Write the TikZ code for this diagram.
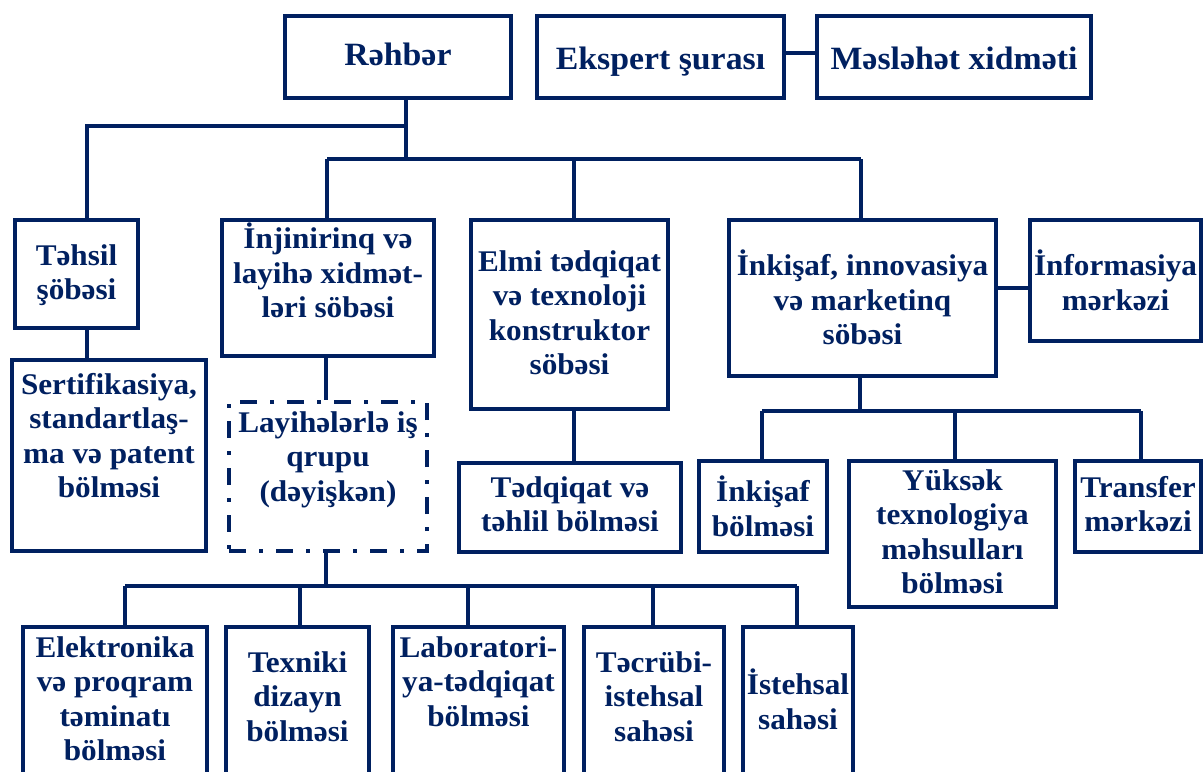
\documentclass[tikz,border=0pt]{standalone}
\usepackage{fontspec}
\setmainfont{Liberation Serif}[FakeStretch=1.04]
\usetikzlibrary{fit,calc}
\definecolor{navy}{RGB}{0,32,96}
\tikzset{
  unit/.style={draw=navy, line width=4pt, inner sep=0pt, rectangle},
  dunit/.style={unit, dash pattern=on 17pt off 13pt on 4pt off 13pt},
  lbl/.style={text=navy, inner sep=0pt, anchor=north, align=center,
    font=\fontsize{30}{34.5}\selectfont\bfseries, execute at begin node=\strut},
  toplbl/.style={lbl, font=\fontsize{32.5}{37}\selectfont\bfseries},
  link/.style={draw=navy, line width=3.5pt}
}
\begin{document}
\begin{tikzpicture}[x=1pt, y=-1pt]
\useasboundingbox (0,0) rectangle (1204,771);
\clip (0,0) rectangle (1204,771);

% --- boxes ---
\node[unit, fit={(285,16) (511,98)}]    (rehber)   {};
\node[unit, fit={(537,16) (784,98)}]    (ekspert)  {};
\node[unit, fit={(817,16) (1091,98)}]   (masl)     {};
\node[unit, fit={(15,220) (138,328)}]   (tehsil)   {};
\node[unit, fit={(222,220) (434,356)}]  (injin)    {};
\node[unit, fit={(471,220) (668,409)}]  (elmi)     {};
\node[unit, fit={(729,220) (996,376)}]  (inkisaf)  {};
\node[unit, fit={(1030,220) (1201,341)}] (inform)  {};
\node[unit, fit={(12,360) (206,551)}]   (sert)     {};
\node[dunit, fit={(229,402) (427,551)}] (layihe)   {};
\node[unit, fit={(459,463) (681,552)}]  (tedqiq)   {};
\node[unit, fit={(699,461) (827,552)}]  (inkb)     {};
\node[unit, fit={(849,461) (1056,607)}] (yuksek)   {};
\node[unit, fit={(1075,461) (1201,552)}] (transfer) {};
\node[unit, fit={(23,627) (207,800)}]   (elek)     {};
\node[unit, fit={(226,627) (369,800)}]  (texniki)  {};
\node[unit, fit={(393,627) (564,800)}]  (labor)    {};
\node[unit, fit={(584,627) (724,800)}]  (tecrubi)  {};
\node[unit, fit={(743,627) (853,800)}]  (istehsal) {};

% --- labels ---
\node[toplbl] (rehber-t)  at (398,39)   {Rəhbər};
\node[toplbl] (ekspert-t) at (660.5,43) {Ekspert şurası};
\node[toplbl] (masl-t)    at (954,43)   {Məsləhət xidməti};
\node[lbl] (tehsil-t)   at (76.5,244) {Təhsil\\şöbəsi};
\node[lbl] (injin-t)    at (328,223)  {İnjinirinq və\\layihə xidmət-\\ləri söbəsi};
\node[lbl] (elmi-t)     at (569.5,250) {Elmi tədqiqat\\və texnoloji\\konstruktor\\söbəsi};
\node[lbl] (inkisaf-t)  at (862.5,250) {İnkişaf, innovasiya\\və marketinq\\söbəsi};
\node[lbl] (inform-t)   at (1115.5,250) {İnformasiya\\mərkəzi};
\node[lbl] (sert-t)     at (109,373)  {Sertifikasiya,\\standartlaş-\\ma və patent\\bölməsi};
\node[lbl] (layihe-t)   at (328,411)  {Layihələrlə iş\\qrupu\\(dəyişkən)};
\node[lbl] (tedqiq-t)   at (570,476)  {Tədqiqat və\\təhlil bölməsi};
\node[lbl] (inkb-t)     at (763,476)  {İnkişaf\\bölməsi};
\node[lbl] (yuksek-t)   at (952.5,469) {Yüksək\\texnologiya\\məhsulları\\bölməsi};
\node[lbl] (transfer-t) at (1138,476) {Transfer\\mərkəzi};
\node[lbl] (elek-t)     at (115,636)  {Elektronika\\və proqram\\təminatı\\bölməsi};
\node[lbl] (texniki-t)  at (297.5,651) {Texniki\\dizayn\\bölməsi};
\node[lbl] (labor-t)    at (478.5,636) {Laboratori-\\ya-tədqiqat\\bölməsi};
\node[lbl] (tecrubi-t)  at (654,651)  {Təcrübi-\\istehsal\\sahəsi};
\node[lbl] (istehsal-t) at (798,669)  {İstehsal\\sahəsi};

% --- branch points and drop columns ---
\coordinate (hubA) at (406,126);
\coordinate (hubB) at (406,159);
\coordinate (cT)   at (87,0);
\coordinate (cI)   at (327,0);
\coordinate (cE)   at (574,0);
\coordinate (cK)   at (861,0);
\coordinate (hubC) at (860,411);
\coordinate (cKb)  at (762,0);
\coordinate (cY)   at (955,0);
\coordinate (cTr)  at (1141,0);
\coordinate (hubD) at (326,586);
\coordinate (cEl)  at (125,0);
\coordinate (cTx)  at (300,0);
\coordinate (cLb)  at (468,0);
\coordinate (cTc)  at (653,0);
\coordinate (cIs)  at (797,0);
\coordinate (rowM) at (0,53);
\coordinate (rowI) at (0,288);

% --- connectors ---
\draw[link] (rehber.south -| hubB) -- (hubB);
\draw[link] (hubA) -| (tehsil.north -| cT);
\draw[link] (hubB -| cI) -- (hubB -| cK);
\draw[link] (hubB -| cI) -- (injin.north -| cI);
\draw[link] (hubB -| cE) -- (elmi.north -| cE);
\draw[link] (hubB -| cK) -- (inkisaf.north -| cK);
\draw[link] (ekspert.east |- rowM) -- (masl.west |- rowM);
\draw[link] (tehsil.south -| cT) -- (sert.north -| cT);
\draw[link] (injin.south -| hubD) -- (layihe.north -| hubD);
\draw[link] (elmi.south -| cE) -- (tedqiq.north -| cE);
\draw[link] (inkisaf.east |- rowI) -- (inform.west |- rowI);
\draw[link] (inkisaf.south -| hubC) -- (hubC);
\draw[link] (hubC -| cKb) -- (hubC -| cTr);
\draw[link] (hubC -| cKb) -- (inkb.north -| cKb);
\draw[link] (hubC -| cY) -- (yuksek.north -| cY);
\draw[link] (hubC -| cTr) -- (transfer.north -| cTr);
\draw[link] (layihe.south -| hubD) -- (hubD);
\draw[link] (hubD -| cEl) -- (hubD -| cIs);
\draw[link] (hubD -| cEl) -- (elek.north -| cEl);
\draw[link] (hubD -| cTx) -- (texniki.north -| cTx);
\draw[link] (hubD -| cLb) -- (labor.north -| cLb);
\draw[link] (hubD -| cTc) -- (tecrubi.north -| cTc);
\draw[link] (hubD -| cIs) -- (istehsal.north -| cIs);
\end{tikzpicture}
\end{document}
